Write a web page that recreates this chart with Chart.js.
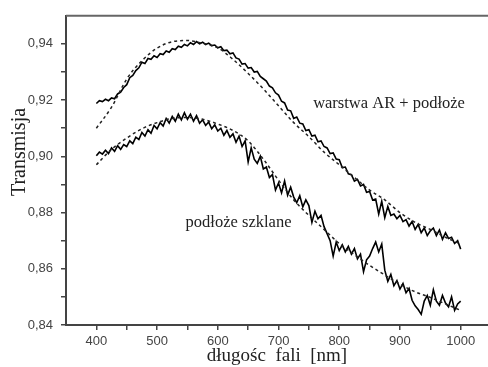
<!DOCTYPE html>
<html>
<head>
<meta charset="utf-8">
<script src="https://cdn.jsdelivr.net/npm/chart.js@4"></script>
<style>
  body { margin: 0; background: #fff; }
  canvas { display: block; }
</style>
</head>
<body>
<canvas id="chart" width="488" height="367"></canvas>
<script>
// measured wavelengths (nm)
const wavelengths = [
  400, 405, 410, 415, 420, 425, 430, 435, 440, 445, 450, 455, 460, 465, 470, 475, 480, 485, 490, 495,
  500, 505, 510, 515, 520, 525, 530, 535, 540, 545, 550, 555, 560, 565, 570, 575, 580, 585, 590, 595,
  600, 605, 610, 615, 620, 625, 630, 635, 640, 645, 650, 655, 660, 665, 670, 675, 680, 685, 690, 695,
  700, 705, 710, 715, 720, 725, 730, 735, 740, 745, 750, 755, 760, 765, 770, 775, 780, 785, 790, 795,
  800, 805, 810, 815, 820, 825, 830, 835, 840, 845, 850, 855, 860, 865, 870, 875, 880, 885, 890, 895,
  900, 905, 910, 915, 920, 925, 930, 935, 940, 945, 950, 955, 960, 965, 970, 975, 980, 985, 990, 995,
  1000
];

// warstwa AR + podłoże (measured)
const arMeasured = [
  .9188, .9198, .9195, .9203, .9198, .9208, .9205, .9222, .9228, .9245, .9255, .9280, .9288, .9305, .9315, .9335, .9330, .9348, .9345, .9358,
  .9352, .9365, .9362, .9375, .9370, .9383, .9380, .9392, .9388, .9398, .9393, .9404, .9398, .9408, .9400, .9406, .9398, .9403, .9394, .9396,
  .9386, .9390, .9376, .9378, .9365, .9368, .9350, .9346, .9328, .9330, .9314, .9316, .9300, .9302, .9284, .9276, .9268, .9250, .9244, .9226,
  .9218, .9196, .9190, .9165, .9162, .9135, .9140, .9118, .9115, .9092, .9095, .9072, .9075, .9052, .9055, .9035, .9030, .9010, .9012, .8990,
  .8988, .8960, .8962, .8938, .8935, .8912, .8918, .8895, .8900, .8872, .8875, .8845, .8848, .8795, .8840, .8782, .8822, .8790, .8795, .8778,
  .8790, .8768, .8775, .8752, .8768, .8740, .8758, .8728, .8745, .8718, .8735, .8745, .8718, .8738, .8705, .8728, .8708, .8712, .8690, .8700,
  .8670
];

// podłoże szklane (measured)
const glassMeasured = [
  .9002, .9015, .9008, .9022, .9010, .9030, .9018, .9038, .9025, .9042, .9035, .9055, .9045, .9068, .9060, .9085, .9072, .9095, .9082, .9110,
  .9098, .9120, .9108, .9135, .9118, .9142, .9125, .9150, .9130, .9155, .9132, .9150, .9125, .9145, .9118, .9130, .9110, .9122, .9098, .9112,
  .9090, .9100, .9075, .9092, .9068, .9080, .9050, .9072, .9035, .9055, .8980, .9030, .8990, .8975, .9000, .8955, .8962, .8925, .8935, .8880,
  .8905, .8870, .8912, .8862, .8890, .8855, .8835, .8860, .8820, .8845, .8825, .8765, .8805, .8778, .8790, .8750, .8725, .8700, .8645, .8695,
  .8665, .8685, .8660, .8680, .8652, .8672, .8635, .8652, .8590, .8632, .8645, .8672, .8695, .8660, .8688, .8595, .8555, .8580, .8540, .8558,
  .8528, .8548, .8515, .8530, .8488, .8468, .8455, .8438, .8485, .8505, .8470, .8525, .8485, .8470, .8505, .8478, .8465, .8500, .8452, .8475,
  .8485
];

// fitted curves
const fitWavelengths = [400, 425, 450, 475, 500, 525, 550, 575, 600, 625, 650, 675, 700, 725, 750, 775, 800, 825, 850, 875, 900, 925, 950, 975, 1000];
const arFit =    [.9100, .9175, .9275, .9340, .9385, .9408, .9412, .9402, .9386, .9345, .9295, .9240, .9180, .9120, .9070, .9015, .8970, .8925, .8880, .8845, .8800, .8765, .8740, .8712, .8688];
const glassFit = [.8970, .9025, .9065, .9098, .9120, .9135, .9138, .9132, .9115, .9092, .9055, .8990, .8915, .8845, .8790, .8740, .8690, .8650, .8612, .8578, .8545, .8518, .8498, .8475, .8452];

const xTicks = [400, 450, 500, 550, 600, 650, 700, 750, 800, 850, 900, 950, 1000];
const yTicks = [84, 85, 86, 87, 88, 89, 90, 91, 92, 93, 94]; // hundredths

const pts = (xs, ys) => xs.map((x, i) => ({ x: x, y: ys[i] }));

const labels = [
  { text: 'warstwa AR + podłoże', x: 757, y: 0.9187 },
  { text: 'podłoże szklane', x: 547, y: 0.8763 }
];

const frame = {
  id: 'frame',
  afterDraw(chart) {
    const { ctx, chartArea, scales } = chart;
    ctx.save();
    ctx.strokeStyle = '#666';
    ctx.lineWidth = 2;
    ctx.beginPath();
    ctx.moveTo(chartArea.left, chartArea.top);
    ctx.lineTo(chartArea.right, chartArea.top);
    ctx.stroke();
    ctx.fillStyle = '#222';
    ctx.font = '16.5px "Liberation Serif", serif';
    ctx.textBaseline = 'middle';
    ctx.textAlign = 'left';
    labels.forEach(l => {
      ctx.fillText(l.text, scales.x.getPixelForValue(l.x), scales.y.getPixelForValue(l.y));
    });
    // y axis title
    ctx.translate(20, 152);
    ctx.rotate(-Math.PI / 2);
    ctx.textAlign = 'center';
    ctx.font = '20px "Liberation Serif", serif';
    ctx.fillText('Transmisja', 0, 0);
    ctx.restore();
  }
};

const solid = { borderColor: '#000', borderWidth: 1.6, pointRadius: 0, tension: 0, fill: false };
const dashed = { borderColor: '#222', borderWidth: 1.5, borderDash: [3, 3], pointRadius: 0, tension: 0.4, cubicInterpolationMode: 'monotone', fill: false };

new Chart(document.getElementById('chart'), {
  type: 'line',
  data: {
    datasets: [
      { ...dashed, label: 'fit AR', data: pts(fitWavelengths, arFit) },
      { ...dashed, label: 'fit szklo', data: pts(fitWavelengths, glassFit) },
      { ...solid, label: 'warstwa AR + podłoże', data: pts(wavelengths, arMeasured) },
      { ...solid, label: 'podłoże szklane', data: pts(wavelengths, glassMeasured) }
    ]
  },
  options: {
    responsive: false,
    animation: false,
    layout: { padding: { top: 13, right: 0, left: 0, bottom: 0 } },
    plugins: { legend: { display: false }, tooltip: { enabled: false } },
    scales: {
      x: {
        type: 'linear',
        min: 350,
        max: 1045,
        afterBuildTicks: (scale) => { scale.ticks = xTicks.map(v => ({ value: v })); },
        afterFit: (scale) => { scale.height = 42; },
        border: { color: '#444', width: 2 },
        grid: { drawOnChartArea: false, drawTicks: true, tickLength: 5, color: '#444', lineWidth: 1.5 },
        ticks: {
          color: '#444',
          padding: 4,
          maxRotation: 0,
          autoSkip: false,
          font: { family: '"Liberation Sans", Arial, sans-serif', size: 13 },
          callback: (v) => (v % 100 === 0 ? String(v) : '')
        },
        title: {
          display: true,
          text: 'długośc  fali  [nm]',
          color: '#222',
          font: { family: '"Liberation Serif", serif', size: 19 },
          padding: { top: 0, bottom: 0 }
        }
      },
      y: {
        type: 'linear',
        min: 0.84,
        max: 0.95,
        afterBuildTicks: (scale) => { scale.ticks = yTicks.map(v => ({ value: v / 100 })); },
        afterFit: (scale) => { scale.width = 66; },
        border: { color: '#444', width: 2 },
        grid: { drawOnChartArea: false, drawTicks: true, tickLength: 5, color: '#444', lineWidth: 1.5 },
        ticks: {
          color: '#444',
          padding: 8,
          autoSkip: false,
          font: { family: '"Liberation Sans", Arial, sans-serif', size: 13 },
          callback: (v) => {
            const h = Math.round(v * 100);
            return h % 2 === 0 ? (h / 100).toFixed(2).replace('.', ',') : '';
          }
        },
        title: { display: false }
      }
    }
  },
  plugins: [frame]
});
</script>
</body>
</html>
